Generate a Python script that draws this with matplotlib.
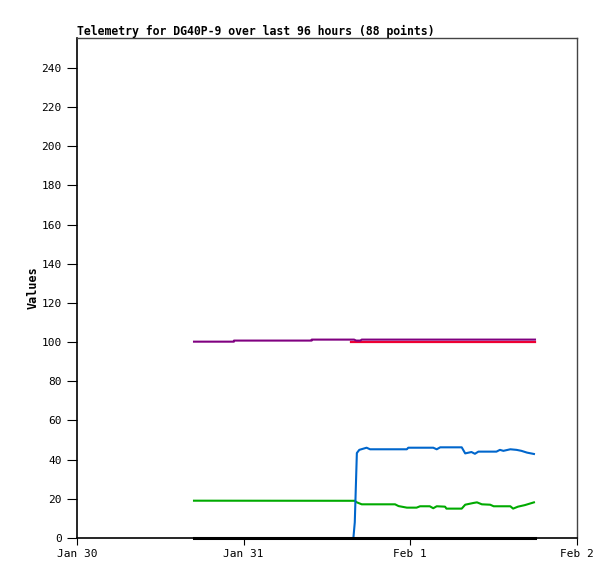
import matplotlib.pyplot as plt

# hours since Jan 30 00:00
purple_h = [16.85, 22.6, 22.6, 33.8, 33.8, 39.9, 40.2, 40.8, 41.0, 65.95]
purple_v = [100.25, 100.25, 100.8, 100.8, 101.3, 101.3, 100.8, 100.8, 101.3, 101.3]

red_h = [39.5, 65.95]
red_v = [100.1, 100.1]

blue_h = [39.8, 40.0, 40.3, 40.65, 41.7, 42.2, 47.5, 47.7, 51.3, 51.8, 52.3, 55.4, 55.9,
          56.8, 57.3, 57.8, 60.4, 60.9, 61.4, 62.4, 63.3, 64.0, 64.8, 65.8]
blue_v = [0, 8, 43.4, 45.0, 46.1, 45.3, 45.3, 46.1, 46.1, 45.3, 46.3, 46.3, 43.2,
          43.9, 43.0, 44.1, 44.1, 45.0, 44.5, 45.3, 45.0, 44.5, 43.6, 42.9]

green_h = [16.85, 40.0, 40.3, 41.0, 45.8, 46.3, 47.5, 48.9, 49.4, 50.8, 51.3, 51.8, 53.0,
           53.2, 55.4, 55.9, 57.1, 57.6, 58.3, 59.5, 60.0, 62.4, 62.8, 63.5, 64.5, 65.8]
green_v = [19.05, 19.0, 18.2, 17.2, 17.2, 16.3, 15.5, 15.5, 16.2, 16.2, 15.2, 16.2, 16.0,
           15.0, 15.0, 17.0, 17.9, 18.2, 17.2, 17.0, 16.2, 16.2, 15.0, 16.0, 16.8, 18.2]

black_h = [16.85, 65.95]
black_v = [0, 0]

x_ticks = [0, 24, 48, 72]
x_labels = ['Jan 30', 'Jan 31', 'Feb 1', 'Feb 2']
y_ticks = list(range(0, 241, 20))

fig = plt.figure(figsize=(6.15, 5.79), dpi=100)
ax = fig.add_axes([77 / 615, 41 / 579, 500 / 615, 500 / 579])

ax.plot(red_h, red_v, color='#ee0033', lw=1.6)
ax.plot(purple_h, purple_v, color='#800080', lw=1.5)
ax.plot(green_h, green_v, color='#00aa00', lw=1.5)
ax.plot(blue_h, blue_v, color='#0066cc', lw=1.5)
ax.plot(black_h, black_v, color='black', lw=2.2, clip_on=False, zorder=5)

ax.set_xlim(0, 72)
ax.set_ylim(0, 255.3)
ax.set_xticks(x_ticks)
ax.set_xticklabels(x_labels)
ax.set_yticks(y_ticks)
ax.tick_params(axis='y', length=7, labelsize=8, pad=4)
ax.tick_params(axis='x', length=5, labelsize=8, pad=3)
for lab in ax.get_xticklabels() + ax.get_yticklabels():
    lab.set_family('DejaVu Sans Mono')

for s in ['left', 'bottom']:
    ax.spines[s].set_color('black')
    ax.spines[s].set_linewidth(1.2)
for s in ['top', 'right']:
    ax.spines[s].set_color('#444444')
    ax.spines[s].set_linewidth(1.0)

ax.set_ylabel('Values', family='DejaVu Sans Mono', fontweight='bold', fontsize=8.5, labelpad=1)
ax.set_title('Telemetry for DG40P-9 over last 96 hours (88 points)', loc='left',
             family='DejaVu Sans Mono', fontweight='bold', fontsize=8.3, pad=2)

fig.savefig('out.png', dpi=100)
